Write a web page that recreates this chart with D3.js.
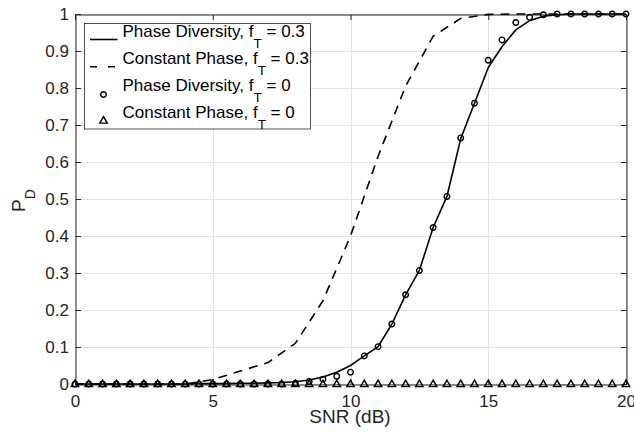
<!DOCTYPE html>
<html><head><meta charset="utf-8">
<script src="https://cdn.jsdelivr.net/npm/d3@7"></script>
<style>
html,body{margin:0;padding:0;background:#fff;}
svg{display:block;font-family:"Liberation Sans",Arial,Helvetica,sans-serif;}
</style></head>
<body><svg id="c" width="634" height="437"></svg>
<script>
// ---- data ----
const snrFine = [0,0.5,1,1.5,2,2.5,3,3.5,4,4.5,5,5.5,6,6.5,7,7.5,8,8.5,9,9.5,10,10.5,11,11.5,12,12.5,13,13.5,14,14.5,15,15.5,16,16.5,17,17.5,18,18.5,19,19.5,20];
const snrCoarse = [0,1,2,3,4,5,6,7,8,9,10,11,12,13,14,15,16,17,18,19,20];
const pdPhaseDiv03 = [0,0,0,0,0,0,0,0,0,0.001,0.001,0.001,0.002,0.002,0.003,0.004,0.006,0.011,0.019,0.032,0.05,0.076,0.101,0.162,0.241,0.307,0.423,0.507,0.663,0.759,0.855,0.912,0.957,0.982,0.994,0.998,1,1,1,1,1];
const pdConstPh03 = [0,0,0,0,0,0.012,0.035,0.058,0.11,0.225,0.40,0.615,0.805,0.94,0.988,0.999,1,1,1,1,1];
const pdPhaseDiv0 = [0,0,0,0,0,0,0,0,0,0,0,0,0,0,0,0,0.002,0.007,0.013,0.021,0.032,0.076,0.101,0.162,0.241,0.307,0.423,0.507,0.665,0.759,0.875,0.93,0.977,0.991,0.998,1,1,1,1,1,1];
const pdConstPh0 = [0,0,0,0,0,0,0,0,0,0,0,0,0,0,0,0,0,0,0,0,0,0,0,0,0,0,0,0,0,0,0,0,0,0,0,0,0,0,0,0,0];
const xTicks = [0,5,10,15,20];
const yTicks = [0,0.1,0.2,0.3,0.4,0.5,0.6,0.7,0.8,0.9,1];
const yTickLabels = ["0","0.1","0.2","0.3","0.4","0.5","0.6","0.7","0.8","0.9","1"];
const legendNames = ["Phase Diversity, f","Constant Phase, f","Phase Diversity, f","Constant Phase, f"];
const legendSubs = ["T","T","T","T"];
const legendTails = [" = 0.3"," = 0.3"," = 0"," = 0"];

// ---- layout ----
const L=75, R=626, T=14, B=384;
const ink="#262626";
const svg=d3.select("#c");
const x=d3.scaleLinear().domain([0,20]).range([L,R]);
const y=d3.scaleLinear().domain([0,1]).range([B,T]);

// grid
const g=svg.append("g");
g.selectAll(".gx").data(xTicks).enter().append("line")
 .attr("x1",d=>Math.round(x(d))+0.5).attr("x2",d=>Math.round(x(d))+0.5).attr("y1",T).attr("y2",B)
 .attr("stroke","#e3e3e3").attr("stroke-width",1);
g.selectAll(".gy").data(yTicks).enter().append("line")
 .attr("y1",d=>Math.round(y(d))+0.5).attr("y2",d=>Math.round(y(d))+0.5).attr("x1",L).attr("x2",R)
 .attr("stroke","#e3e3e3").attr("stroke-width",1);

// axes (box with inward ticks)
const ax=svg.append("g");
const axB=d3.axisBottom(x).tickValues(xTicks).tickSize(-5.5).tickPadding(10).tickFormat(d3.format("d"));
const axL=d3.axisLeft(y).tickValues(yTicks).tickSize(-5.5).tickPadding(6.5).tickFormat((d,i)=>yTickLabels[i]);
const axT=d3.axisTop(x).tickValues(xTicks).tickSize(-5.5).tickFormat("");
const axR=d3.axisRight(y).tickValues(yTicks).tickSize(-5.5).tickFormat("");
function style(sel){
  sel.selectAll("path,line").attr("stroke",ink).attr("stroke-width",1);
  sel.selectAll("text").attr("fill",ink).attr("font-size","17px").attr("font-family","Liberation Sans, Arial, sans-serif");
}
ax.append("g").attr("transform",`translate(0,${B+0.5})`).call(axB).call(style);
ax.append("g").attr("transform",`translate(${L+0.5},0)`).call(axL).call(style);
ax.append("g").attr("transform",`translate(0,${T+0.5})`).call(axT).call(style);
ax.append("g").attr("transform",`translate(${R+0.5},0)`).call(axR).call(style);

// lines
const lineFine=d3.line().x((d,i)=>x(snrFine[i])).y(d=>y(d));
const lineCoarse=d3.line().x((d,i)=>x(snrCoarse[i])).y(d=>y(d));
const plot=svg.append("g");
plot.append("path").attr("d",lineFine(pdPhaseDiv03)).attr("fill","none").attr("stroke","#000").attr("stroke-width",1.6);
plot.append("path").attr("d",lineCoarse(pdConstPh03)).attr("fill","none").attr("stroke","#000").attr("stroke-width",1.6).attr("stroke-dasharray","9,7");
const circ=d3.symbol().type(d3.symbolCircle).size(Math.PI*2.8*2.8);
const tri=d3.symbol().type(d3.symbolTriangle).size(24);
plot.selectAll(".c").data(pdPhaseDiv0).enter().append("path")
 .attr("d",circ).attr("transform",(d,i)=>`translate(${x(snrFine[i])},${y(d)})`)
 .attr("fill","none").attr("stroke","#000").attr("stroke-width",1.4);
plot.selectAll(".t").data(pdConstPh0).enter().append("path")
 .attr("d",tri).attr("transform",(d,i)=>`translate(${x(snrFine[i])},${y(d)+0.5})`)
 .attr("fill","none").attr("stroke","#000").attr("stroke-width",1.4);

// axis labels
svg.append("text").attr("x",350).attr("y",422.5).attr("text-anchor","middle").attr("font-size","19px").attr("fill",ink).text("SNR (dB)");
const yl=svg.append("text").attr("transform","translate(25,212) rotate(-90)").attr("font-size","19px").attr("fill",ink);
yl.append("tspan").text("P");
yl.append("tspan").attr("font-size","14px").attr("dy",10).text("D");

// legend
const lg=svg.append("g");
lg.append("rect").attr("x",84.5).attr("y",23.5).attr("width",226).attr("height",105.5).attr("fill","#fff").attr("stroke",ink).attr("stroke-width",0.8);
const rowBase=[37.3,64.3,91,117.7];
legendNames.forEach((nm,i)=>{
  const t=lg.append("text").attr("x",122.5).attr("y",rowBase[i]).attr("font-size","17px").attr("fill","#000");
  t.append("tspan").text(nm);
  t.append("tspan").attr("font-size","13.5px").attr("dy",11).text(legendSubs[i]);
  t.append("tspan").attr("dy",-11).text(legendTails[i]);
});
const ly=[39.5,66.8,94.5,121];
lg.append("line").attr("x1",90).attr("x2",117.5).attr("y1",ly[0]).attr("y2",ly[0]).attr("stroke","#000").attr("stroke-width",1.6);
lg.append("line").attr("x1",90).attr("x2",117.5).attr("y1",ly[1]).attr("y2",ly[1]).attr("stroke","#000").attr("stroke-width",1.6).attr("stroke-dasharray","7,11");
lg.append("path").attr("d",circ).attr("transform",`translate(103.5,${ly[2]})`).attr("fill","none").attr("stroke","#000").attr("stroke-width",1.4);
lg.append("path").attr("d",tri).attr("transform",`translate(103.5,${ly[3]})`).attr("fill","none").attr("stroke","#000").attr("stroke-width",1.4);
</script></body></html>
